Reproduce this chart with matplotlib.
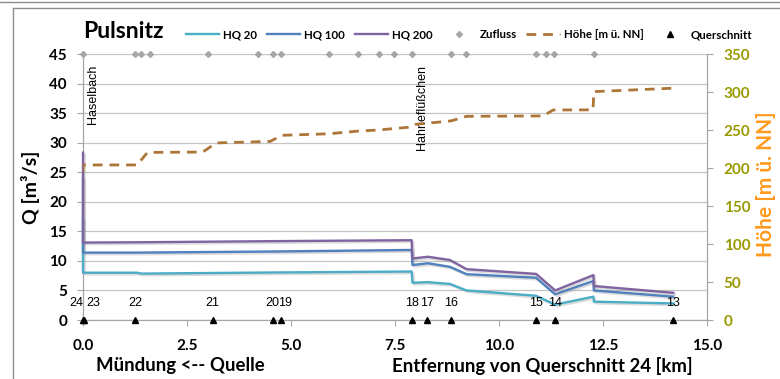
import numpy as np
import matplotlib.pyplot as plt
from matplotlib.lines import Line2D
import matplotlib.patheffects as pe

# ---- data -------------------------------------------------------------
title = "Pulsnitz"

# HQ discharge profiles along the river (km, m³/s)
hq20_x = [0.0, 0.0, 1.30, 1.40, 4.76, 7.90, 7.92, 8.29, 8.82, 9.22, 10.89, 11.35, 12.27, 12.28, 14.19]
hq20_y = [17.0, 8.0, 8.0, 7.85, 8.05, 8.2, 6.3, 6.4, 6.1, 5.0, 4.1, 2.6, 3.95, 3.1, 2.8]

hq100_x = [0.0, 0.0, 1.30, 4.76, 7.90, 7.92, 8.29, 8.82, 9.22, 10.89, 11.35, 12.27, 12.28, 14.19]
hq100_y = [24.0, 11.4, 11.4, 11.6, 11.85, 9.3, 9.6, 9.0, 7.75, 7.15, 4.35, 6.6, 5.0, 3.95]

hq200_x = [0.0, 0.0, 1.30, 4.76, 7.90, 7.92, 8.29, 8.82, 9.22, 10.89, 11.35, 12.27, 12.28, 14.19]
hq200_y = [28.3, 13.1, 13.15, 13.35, 13.5, 10.4, 10.7, 10.15, 8.6, 7.8, 5.0, 7.6, 5.75, 4.6]

# bed elevation (km, m ü. NN)
hoehe_x = [0.0, 0.0, 1.30, 1.55, 2.88, 3.20, 4.50, 4.78, 5.90, 6.60, 7.10, 7.90,
           8.00, 8.30, 8.85, 9.22, 11.06, 11.30, 12.26, 12.28, 14.19]
hoehe_y = [195, 204, 204, 220.5, 221, 233, 235, 243, 245, 248.5, 250, 254,
           257.5, 259, 262, 268, 268.5, 276.3, 276.5, 300.5, 305]

# tributary inflow points (km)
zufluss_x = [0.0, 1.24, 1.39, 1.61, 3.01, 4.20, 4.57, 4.76, 5.92, 6.62, 7.12,
             7.48, 7.90, 8.85, 9.21, 10.89, 11.13, 11.33, 12.28]
zufluss_level = 45
tributary_names = ["Haselbach", "Hahneflüßchen"]
tributary_x = [0.0, 7.90]

# cross sections
qs_names = ["24", "23", "22", "21", "20", "19", "18", "17", "16", "15", "14", "13"]
qs_x = [0.0, 0.02, 1.25, 3.12, 4.56, 4.76, 7.92, 8.27, 8.85, 10.89, 11.34, 14.19]
qs_label_dx = [-4.5, 6.5, 0, 0, 0, 3.0, 0, 0, 0, 0, 0, 0]   # label nudge, points

x_ticks = [0.0, 2.5, 5.0, 7.5, 10.0, 12.5, 15.0]
q_ticks = [0, 5, 10, 15, 20, 25, 30, 35, 40, 45]
h_ticks = [0, 50, 100, 150, 200, 250, 300, 350]

# ---- style ------------------------------------------------------------
C_HQ20 = "#4BACC6"
C_HQ100 = "#4F81BD"
C_HQ200 = "#8064A2"
C_HOEHE = "#AD7537"
C_ZUF = "#A6A6A6"
C_GRID = "#C4C4C4"
C_SPINE = "#A6A6A6"
C_RTICK = "#999900"
C_RLABEL = "#FF9A1E"
BOLD = "Lato"
PLAIN = "Liberation Sans"

fig = plt.figure(figsize=(7.8, 3.79), dpi=100)
W, H = 780, 379
ax = fig.add_axes([83 / W, 1 - 320 / H, 624 / W, 266 / H])
ax2 = ax.twinx()

# frames around the chart
fig.add_artist(Line2D([0, 1], [1 - 2 / H] * 2, transform=fig.transFigure, color="#8C8C8C", lw=1.0))
fig.add_artist(Line2D([13 / W, 1], [1 - 7.5 / H] * 2, transform=fig.transFigure, color="#8C8C8C", lw=1.0))
fig.add_artist(Line2D([13 / W] * 2, [0, 1 - 7.5 / H], transform=fig.transFigure, color="#8C8C8C", lw=1.0))

shadow = [pe.SimpleLineShadow(offset=(1.2, -1.2), shadow_color="#9a9a9a", alpha=0.35), pe.Normal()]

l20, = ax.plot(hq20_x, hq20_y, color=C_HQ20, lw=1.7, label="HQ 20", path_effects=shadow,
               zorder=3, clip_on=False)
l100, = ax.plot(hq100_x, hq100_y, color=C_HQ100, lw=1.7, label="HQ 100", path_effects=shadow,
                zorder=3, clip_on=False)
l200, = ax.plot(hq200_x, hq200_y, color=C_HQ200, lw=1.7, label="HQ 200", path_effects=shadow,
                zorder=3, clip_on=False)

lzuf, = ax.plot(zufluss_x, [zufluss_level] * len(zufluss_x), ls="none", marker="D",
                ms=3.0, color=C_ZUF, clip_on=False, zorder=4, label="Zufluss")
lqs, = ax.plot(qs_x, [0] * len(qs_x), ls="none", marker="^", ms=4.3, color="black",
               clip_on=False, zorder=5, label="Querschnitt")

lh, = ax2.plot(hoehe_x, hoehe_y, color=C_HOEHE, lw=2.0, ls=(0, (3.5, 2.5)),
               label="Höhe [m ü. NN]")

# cross-section numbers above the markers
for name, xv, dx in zip(qs_names, qs_x, qs_label_dx):
    ax.annotate(name, (xv, 0), xytext=(dx, 12), textcoords="offset points",
                ha="center", va="center", fontsize=9, family=PLAIN, color="black",
                annotation_clip=False)

# tributary names, vertical below the inflow row
for name, xv in zip(tributary_names, tributary_x):
    ax.annotate(name, (xv, zufluss_level), xytext=(7.5, -8), textcoords="offset points",
                ha="center", va="top", rotation=90, fontsize=9, family=PLAIN,
                color="black", annotation_clip=False)

# axes
ax.set_xlim(0, 15)
ax.set_ylim(0, 45)
ax2.set_ylim(0, 350)
ax.set_xticks(x_ticks)
ax.set_xticklabels([f"{v:.1f}" for v in x_ticks])
ax.set_yticks(q_ticks)
ax2.set_yticks(h_ticks)

ax.grid(axis="y", color=C_GRID, lw=0.9)
ax.set_axisbelow(True)
for a in (ax, ax2):
    for s in a.spines.values():
        s.set_color(C_SPINE)
        s.set_linewidth(0.9)
    a.spines["top"].set_visible(False)
ax.spines["right"].set_visible(False)
ax2.spines["left"].set_visible(False)
ax2.spines["bottom"].set_visible(False)

ax.tick_params(axis="x", length=4, width=0.8, color=C_SPINE, pad=10, labelsize=11)
ax.tick_params(axis="y", length=4.5, width=0.8, color=C_SPINE, pad=7, labelsize=11)
ax2.tick_params(axis="y", length=4, width=0.8, color=C_SPINE, pad=8, labelsize=11,
                labelcolor=C_RTICK)
for lab in ax.get_xticklabels() + ax.get_yticklabels() + ax2.get_yticklabels():
    lab.set_fontfamily(BOLD)
    lab.set_fontweight("bold")

fig.text(31 / W, 1 - 187 / H, "Q [m³/s]", rotation=90, ha="center", va="center",
         fontsize=14, fontweight="bold", family=BOLD, color="black")
fig.text(766 / W, 1 - 184 / H, "Höhe [m ü. NN]", rotation=90, ha="center", va="center",
         fontsize=15, fontweight="bold", family=BOLD, color=C_RLABEL)
fig.text(180 / W, 1 - 366 / H, "Mündung <-- Quelle", ha="center", va="center",
         fontsize=13.4, fontweight="bold", family=BOLD)
fig.text(542 / W, 1 - 366 / H, "Entfernung von Querschnitt 24 [km]", ha="center", va="center",
         fontsize=13.4, fontweight="bold", family=BOLD)

fig.text(83 / W, 1 - 32 / H, title, ha="left", va="center", fontsize=16.5,
         fontweight="bold", family=BOLD)

leg = fig.legend([l20, l100, l200, lzuf, lh, lqs],
                 ["HQ 20", "HQ 100", "HQ 200", "Zufluss", "Höhe [m ü. NN]", "Querschnitt"],
                 loc="lower left", mode="expand",
                 bbox_to_anchor=(186 / W, 1 - 40 / H, (752 - 186) / W, 16 / H), ncol=6,
                 frameon=False, handlelength=2.9, handletextpad=0.35, columnspacing=0.5,
                 borderaxespad=0, borderpad=0,
                 prop={"family": BOLD, "weight": "bold", "size": 8.3})
for h in leg.legend_handles:
    h.set_path_effects([])

fig.savefig("out.png", dpi=100)
